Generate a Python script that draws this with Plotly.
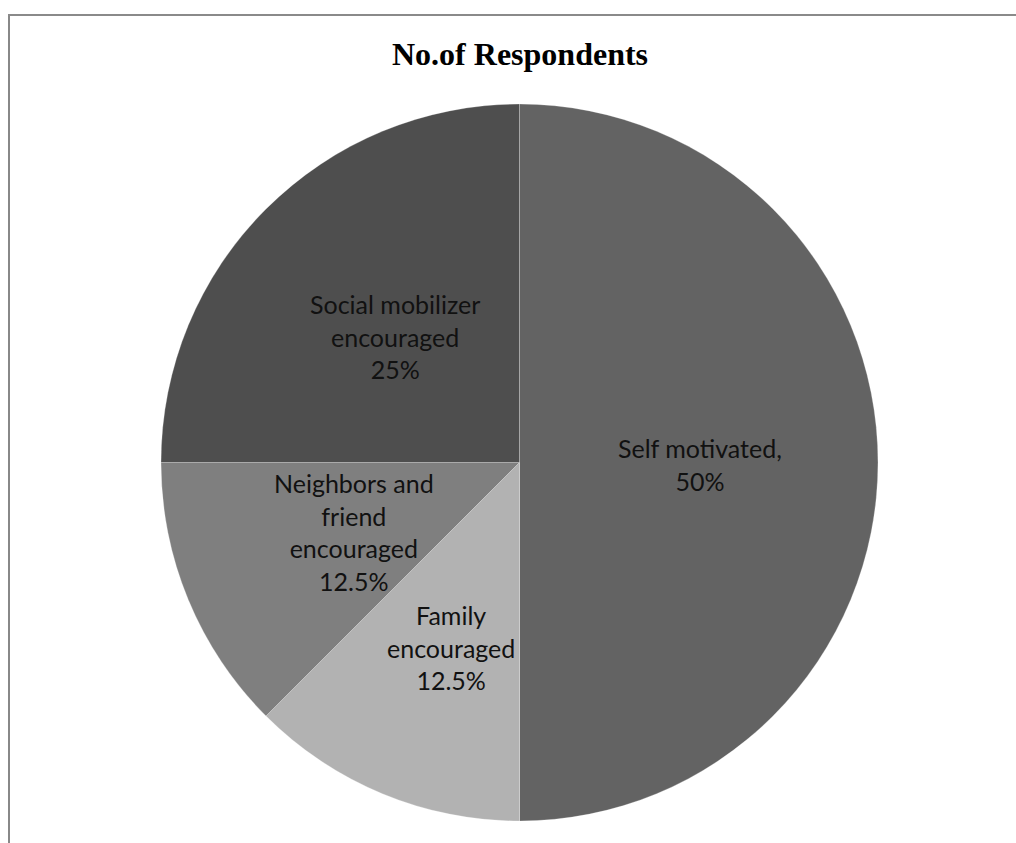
import plotly.graph_objects as go

W, H = 1016, 843

title_text = "No.of Respondents"
categories = ["Self motivated", "Family encouraged", "Neighbors and friend encouraged", "Social mobilizer encouraged"]
values = [50, 12.5, 12.5, 25]
label_texts = [
    "Self motivated,<br>50%",
    "Family<br>encouraged<br>12.5%",
    "Neighbors and<br>friend<br>encouraged<br>12.5%",
    "Social mobilizer<br>encouraged<br>25%",
]
colors = ["#636363", "#b2b2b2", "#7f7f7f", "#4e4e4e"]
# label centres in pixels (layout only)
label_pos = [(700, 464), (451, 647), (354, 532), (395, 337)]

cx, cy, r = 519.5, 462.5, 358.5

fig = go.Figure(go.Pie(
    labels=categories,
    values=values,
    sort=False,
    direction="clockwise",
    rotation=0,
    textinfo="none",
    hoverinfo="label+percent",
    marker=dict(colors=colors, line=dict(color="rgba(255,255,255,0.25)", width=1)),
    domain=dict(x=[(cx - r) / W, (cx + r) / W], y=[(H - (cy + r)) / H, (H - (cy - r)) / H]),
    showlegend=False,
))

annotations = [dict(
    x=cx / W, y=1 - 54 / H, xref="paper", yref="paper",
    text="<b>" + title_text + "</b>", showarrow=False,
    font=dict(family="Liberation Serif", size=32, color="#000000"),
    xanchor="center", yanchor="middle",
)]
for t, (px, py) in zip(label_texts, label_pos):
    annotations.append(dict(
        x=px / W, y=1 - py / H, xref="paper", yref="paper",
        text=t, showarrow=False, align="center",
        font=dict(family="Lato", size=25, color="#111111"),
        xanchor="center", yanchor="middle",
    ))

shapes = [
    dict(type="line", xref="paper", yref="paper", x0=9 / W, x1=9 / W, y0=0, y1=1 - 14 / H,
         line=dict(color="#888888", width=2)),
    dict(type="line", xref="paper", yref="paper", x0=8 / W, x1=1, y0=1 - 15 / H, y1=1 - 15 / H,
         line=dict(color="#8a8a8a", width=2)),
]

fig.update_layout(
    width=W, height=H,
    margin=dict(l=0, r=0, t=0, b=0),
    paper_bgcolor="white", plot_bgcolor="white",
    annotations=annotations, shapes=shapes,
)

fig.write_html("out.html")
